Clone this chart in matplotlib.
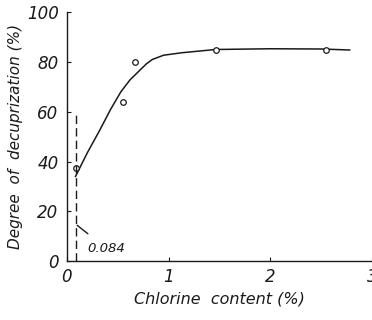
import matplotlib.pyplot as plt

# measured points (open circles)
chlorine = [0.084, 0.55, 0.67, 1.47, 2.55]
decuprization = [37.5, 64.0, 80.0, 85.0, 85.0]

# hand-drawn trend curve
curve_x = [0.084, 0.2, 0.32, 0.43, 0.53, 0.62, 0.71, 0.78, 0.84, 0.95, 1.13, 1.46, 2.0, 2.5, 2.78]
curve_y = [34.0, 43.5, 52.4, 61.0, 68.0, 72.8, 76.4, 79.2, 81.0, 82.7, 83.7, 85.0, 85.3, 85.2, 84.8]

threshold = 0.084
x_ticks = [0, 1, 2, 3]
y_ticks = [0, 20, 40, 60, 80, 100]

ink = "#1a1a1a"
font = dict(family="DejaVu Sans", style="oblique")

fig = plt.figure(figsize=(3.72, 3.2), dpi=100)
ax = fig.add_axes([0.18, 0.184, 0.82, 0.778])

ax.plot(curve_x, curve_y, color=ink, lw=1.1)
ax.plot(chlorine, decuprization, "o", ms=4, mfc="white", mec=ink, mew=0.9)
ax.plot([threshold, threshold], [0, 59], color=ink, lw=1.0, ls=(0, (6, 3)))

ax.annotate(f"{threshold}", xy=(0.1, 14.4), xytext=(0.2, 5.2), color=ink,
            fontsize=9.5, va="center", ha="left", **font,
            arrowprops=dict(arrowstyle="-", color=ink, lw=1.0, shrinkA=6, shrinkB=0))

ax.set_xlim(0, 3)
ax.set_ylim(0, 100)
ax.set_xticks(x_ticks)
ax.set_yticks(y_ticks)
ax.tick_params(direction="in", length=3, color=ink, labelcolor=ink, labelsize=12)
ax.tick_params(axis="y", pad=6)
ax.tick_params(axis="x", pad=5)
for lab in ax.get_xticklabels() + ax.get_yticklabels():
    lab.set_fontstyle("oblique")

for side in ("top", "right"):
    ax.spines[side].set_visible(False)
for side in ("left", "bottom"):
    ax.spines[side].set_color(ink)
    ax.spines[side].set_linewidth(1.0)

ax.set_xlabel("Chlorine  content (%)", fontsize=11.5, color=ink, labelpad=4, **font)
ax.set_ylabel("Degree  of  decuprization (%)", fontsize=11, color=ink, labelpad=3, **font)

fig.savefig("out.png", dpi=100, facecolor="white")
